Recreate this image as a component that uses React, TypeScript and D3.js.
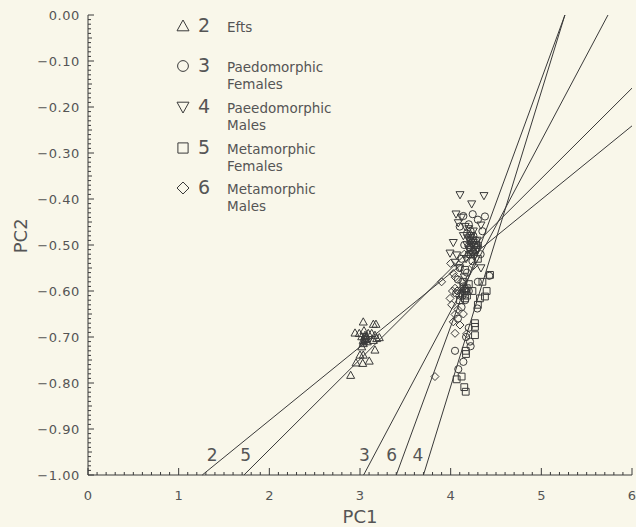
import React from "react";
import * as d3 from "d3";

// group ids shown in the legend and at the foot of each regression line
const groupIds = ["2", "3", "4", "5", "6"];
const groupNames = [
  ["Efts"],
  ["Paedomorphic", "Females"],
  ["Paeedomorphic", "Males"],
  ["Metamorphic", "Females"],
  ["Metamorphic", "Males"],
];

// [PC1, PC2] scores
const efts = [
  [3.036, -0.667], [3.147, -0.672], [3.176, -0.672], [2.945, -0.691], [2.992, -0.692],
  [3.044, -0.686], [3.055, -0.696], [3.091, -0.692], [3.129, -0.692], [3.165, -0.696],
  [3.019, -0.699], [3.036, -0.707], [3.074, -0.703], [3.184, -0.703], [3.213, -0.701],
  [3.036, -0.714], [3.019, -0.721], [3.147, -0.707], [3.165, -0.728], [3.0, -0.739],
  [3.036, -0.739], [2.956, -0.756], [3.03, -0.757], [3.102, -0.752], [2.897, -0.783],
  [3.05, -0.7], [3.06, -0.705], [3.04, -0.71], [3.08, -0.71], [3.07, -0.698],
];
const paedoFemales = [
  [4.14, -0.437], [4.243, -0.433], [4.378, -0.438], [4.3, -0.445], [4.2, -0.455],
  [4.1, -0.46], [4.35, -0.47], [4.18, -0.475], [4.25, -0.48], [4.22, -0.49],
  [4.3, -0.5], [4.15, -0.5], [4.27, -0.51], [4.2, -0.52], [4.33, -0.52],
  [4.12, -0.53], [4.24, -0.535], [4.1, -0.55], [4.18, -0.56], [4.426, -0.567],
  [4.08, -0.575], [4.14, -0.59], [4.2, -0.6], [4.06, -0.605], [4.16, -0.62],
  [4.12, -0.635], [4.294, -0.638], [4.08, -0.66], [4.2, -0.68], [4.213, -0.71],
  [4.22, -0.72], [4.048, -0.73], [4.14, -0.754], [4.084, -0.77], [4.17, -0.7],
  [4.3, -0.58], [4.23, -0.495], [4.26, -0.5], [4.21, -0.505], [4.25, -0.515],
  [4.28, -0.49], [4.22, -0.47], [4.17, -0.6], [4.13, -0.61], [4.16, -0.595],
];
const paedoMales = [
  [4.103, -0.391], [4.367, -0.393], [4.232, -0.411], [4.059, -0.433], [4.12, -0.44],
  [4.084, -0.452], [4.334, -0.457], [4.16, -0.46], [4.2, -0.465], [4.25, -0.47],
  [4.14, -0.48], [4.22, -0.485], [4.29, -0.49], [4.029, -0.495], [4.18, -0.5],
  [4.24, -0.5], [4.3, -0.51], [4.2, -0.51], [3.993, -0.518], [4.066, -0.522],
  [4.26, -0.525], [4.048, -0.538], [4.17, -0.53], [4.334, -0.55], [4.1, -0.55],
  [4.15, -0.57], [4.23, -0.48], [4.21, -0.49], [4.25, -0.495], [4.27, -0.505],
  [4.22, -0.515], [4.19, -0.485], [4.24, -0.52],
];
const metaFemales = [
  [4.434, -0.565], [4.397, -0.6], [4.378, -0.612], [4.323, -0.616], [4.268, -0.67],
  [4.268, -0.678], [4.177, -0.594], [4.158, -0.616], [4.103, -0.62], [4.158, -0.554],
  [4.268, -0.696], [4.166, -0.73], [4.169, -0.737], [4.121, -0.786], [4.066, -0.792],
  [4.15, -0.809], [4.166, -0.819], [4.2, -0.585], [4.24, -0.6], [4.3, -0.63],
  [4.22, -0.52], [4.28, -0.5], [4.25, -0.49], [4.3, -0.53], [4.35, -0.58],
  [4.15, -0.6], [4.18, -0.61], [4.14, -0.58],
];
const metaMales = [
  [4.029, -0.562], [4.048, -0.594], [3.993, -0.616], [4.011, -0.63], [4.048, -0.651],
  [4.029, -0.667], [4.103, -0.674], [4.048, -0.692], [4.177, -0.693], [3.9, -0.58],
  [3.827, -0.786], [4.07, -0.6], [4.1, -0.61], [4.12, -0.58], [4.08, -0.64],
  [4.0, -0.54], [4.05, -0.57], [4.14, -0.65], [4.2, -0.5], [4.15, -0.52],
  [4.25, -0.545], [4.02, -0.6], [4.13, -0.595], [4.11, -0.605],
];

// regression lines: [PC1 at PC2 = -1, end point]
const lineStarts = [1.26, 3.04, 3.7, 1.72, 3.4];
const lineEnds = [
  [6, -0.241],
  [5.735, 0],
  [5.26, 0],
  [6, -0.159],
  [5.26, 0],
];
const lineLabelX = [1.37, 3.05, 3.64, 1.74, 3.35];

const xTicks = [0, 1, 2, 3, 4, 5, 6];
const yTicks = [0, -0.1, -0.2, -0.3, -0.4, -0.5, -0.6, -0.7, -0.8, -0.9, -1.0];

const groups = [efts, paedoFemales, paedoMales, metaFemales, metaMales];
const shapes = ["up", "circle", "down", "square", "diamond"];

const W = 636;
const H = 527;
const ink = "#3a3a3a";
const textCol = "#555";
const font = "'DejaVu Sans', sans-serif";

function marker(shape, s) {
  // s = half width
  switch (shape) {
    case "up":
      return `M0,${-s}L${s},${s * 0.8}L${-s},${s * 0.8}Z`;
    case "down":
      return `M0,${s}L${s},${-s * 0.8}L${-s},${-s * 0.8}Z`;
    case "square":
      return `M${-s * 0.85},${-s * 0.85}h${s * 1.7}v${s * 1.7}h${-s * 1.7}Z`;
    case "diamond":
      return `M0,${-s}L${s},0L0,${s}L${-s},0Z`;
    default:
      return d3.arc()({ innerRadius: 0, outerRadius: s * 0.9, startAngle: 0, endAngle: 2 * Math.PI });
  }
}

export default function App() {
  const margin = { top: 15, right: 4, bottom: 52, left: 88 };
  const x = d3.scaleLinear().domain([0, 6]).range([margin.left, W - margin.right]);
  const y = d3.scaleLinear().domain([-1, 0]).range([H - margin.bottom, margin.top]);

  const xMinor = d3.range(0, 61).map((i) => i / 10);
  const yMinor = d3.range(0, 101).map((i) => -i / 100);

  return (
    <svg width={W} height={H} style={{ position: "absolute", left: 0, top: 0 }}>
      <rect width={W} height={H} fill="#f9f7ea" />

      {/* regression lines */}
      {lineStarts.map((s, i) => (
        <line
          key={`line-${i}`}
          x1={x(s)}
          y1={y(-1)}
          x2={x(lineEnds[i][0])}
          y2={y(lineEnds[i][1])}
          stroke={ink}
          strokeWidth={1}
        />
      ))}
      {lineLabelX.map((lx, i) => (
        <text
          key={`ll-${i}`}
          x={x(lx)}
          y={y(-1) - 14}
          textAnchor="middle"
          fontFamily={font}
          fontSize={17}
          fill={textCol}
        >
          {groupIds[i]}
        </text>
      ))}

      {/* points */}
      {groups.map((g, gi) =>
        g.map(([px, py], i) => (
          <path
            key={`p-${gi}-${i}`}
            d={marker(shapes[gi], 4)}
            transform={`translate(${x(px)},${y(py)})`}
            fill="none"
            stroke={ink}
            strokeWidth={1}
          />
        ))
      )}

      {/* axes */}
      <g stroke={ink} strokeWidth={1}>
        <line x1={x(0)} x2={x(0)} y1={y(0)} y2={y(-1)} />
        <line x1={x(0)} x2={x(6)} y1={y(-1)} y2={y(-1)} />
        {xMinor.map((t, i) => (
          <line key={`xt-${i}`} x1={x(t)} x2={x(t)} y1={y(-1)} y2={y(-1) - (i % 10 === 0 ? 7 : 3)} />
        ))}
        {yMinor.map((t, i) => (
          <line key={`yt-${i}`} x1={x(0)} x2={x(0) + (i % 10 === 0 ? 6 : i % 5 === 0 ? 4 : 3)} y1={y(t)} y2={y(t)} />
        ))}
      </g>
      {xTicks.map((t) => (
        <text key={`xl-${t}`} x={x(t)} y={y(-1) + 25} textAnchor="middle" fontFamily={font} fontSize={13} fill={textCol}>
          {t}
        </text>
      ))}
      {yTicks.map((t) => (
        <text
          key={`yl-${t}`}
          x={x(0) - 8}
          y={y(t) + 5}
          textAnchor="end"
          fontFamily={font}
          fontSize={13}
          letterSpacing={0.6}
          fill={textCol}
        >
          {d3.format(".2f")(t === 0 ? 0 : t)}
        </text>
      ))}
      <text x={(x(0) + x(6)) / 2} y={H - 4} textAnchor="middle" fontFamily={font} fontSize={18} fill={textCol}>
        PC1
      </text>
      <text
        transform={`translate(27,${y(-0.48)}) rotate(-90)`}
        textAnchor="middle"
        fontFamily={font}
        fontSize={18}
        fill={textCol}
      >
        PC2
      </text>

      {/* legend */}
      {groupIds.map((id, i) => {
        const rowY = [26, 66, 107, 148, 188][i];
        return (
          <g key={`lg-${id}`}>
            <path d={marker(shapes[i], 6)} transform={`translate(183,${rowY})`} fill="none" stroke={ink} strokeWidth={1} />
            <text x={204} y={rowY + 6} textAnchor="middle" fontFamily={font} fontSize={19} fill={textCol}>
              {id}
            </text>
            {groupNames[i].map((n, j) => (
              <text key={j} x={227} y={rowY + 6 + j * 17} fontFamily={font} fontSize={13.5} fill={textCol}>
                {n}
              </text>
            ))}
          </g>
        );
      })}
    </svg>
  );
}
